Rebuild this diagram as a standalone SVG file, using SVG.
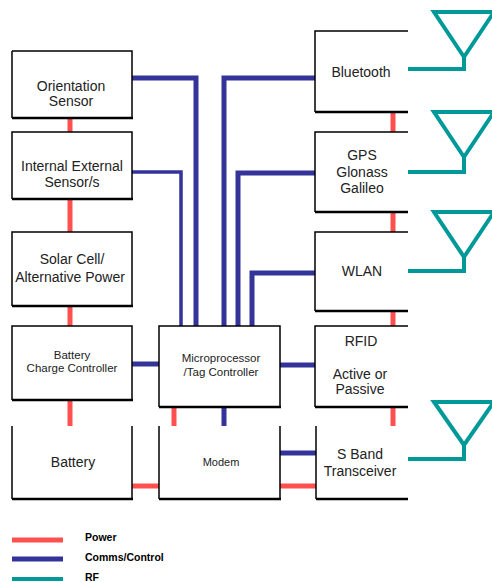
<svg xmlns="http://www.w3.org/2000/svg" width="492" height="582" viewBox="0 0 492 582">
<style>
.box{fill:none;stroke:#000;stroke-width:1.5}
.bot{stroke:#000;stroke-width:2.5}
.t{font-family:"Liberation Sans",Arial,sans-serif;fill:#222;text-anchor:middle;font-size:14px}
.s{font-size:11.5px}
.m{font-size:11px}
.pw{stroke:#FF5050;stroke-width:5;fill:none}
.cc{stroke:#333399;stroke-width:5;fill:none}
.cc3{stroke:#333399;stroke-width:3.5;fill:none}
.rf{stroke:#009999;stroke-width:4;fill:none;stroke-linejoin:miter}
.lg{font-family:"Liberation Sans",Arial,sans-serif;font-weight:bold;font-size:10.5px;fill:#000}
</style>
<rect width="492" height="582" fill="#fff"/>
<g id="connectors">
  <!-- power, left column -->
  <line class="pw" x1="70" y1="118" x2="70" y2="132"/>
  <line class="pw" x1="70" y1="199" x2="70" y2="232"/>
  <line class="pw" x1="70" y1="306" x2="70" y2="326"/>
  <line class="pw" x1="70" y1="400" x2="70" y2="426"/>
  <!-- power, right column -->
  <line class="pw" x1="393" y1="112" x2="393" y2="132"/>
  <line class="pw" x1="393" y1="212" x2="393" y2="232"/>
  <line class="pw" x1="393" y1="311" x2="393" y2="326"/>
  <line class="pw" x1="393" y1="407" x2="393" y2="426"/>
  <!-- power, middle -->
  <line class="pw" x1="174" y1="407" x2="174" y2="426"/>
  <line class="pw" x1="132" y1="486" x2="159" y2="486"/>
  <line class="pw" x1="280" y1="486" x2="316" y2="486"/>
  <!-- comms -->
  <path class="cc" d="M132,78 H196 V326"/>
  <path class="cc3" d="M132,172 H181 V326"/>
  <path class="cc" d="M315,78 H224 V326"/>
  <path class="cc" d="M315,173 H238 V326"/>
  <path class="cc" d="M315,273 H252 V326"/>
  <line class="cc" x1="132" y1="364" x2="159" y2="364"/>
  <line class="cc" x1="280" y1="365" x2="315" y2="365"/>
  <line class="cc" x1="224" y1="407" x2="224" y2="426"/>
  <line class="cc" x1="280" y1="453" x2="316" y2="453"/>
  <!-- RF antennas -->
  <path class="rf" d="M408,69 H464 V57 L434,12 H494 L464,57"/>
  <path class="rf" d="M408,172 H464 V157 L434,112 H494 L464,157"/>
  <path class="rf" d="M408,271 H464 V257 L434,212 H494 L464,257"/>
  <path class="rf" d="M408,459 H464 V445 L434,402 H494 L464,445"/>
</g>
<g id="orientation">
  <path class="box" d="M12,51 H132 V118 M12,118 V51"/>
  <line class="bot" x1="12" y1="118" x2="133" y2="118"/>
  <text class="t" x="71" y="91">Orientation</text>
  <text class="t" x="71" y="106">Sensor</text>
</g>
<g id="internal-external">
  <path class="box" d="M12,199 V132 H132 V199"/>
  <line class="bot" x1="12" y1="199" x2="133" y2="199"/>
  <text class="t" x="72" y="171">Internal External</text>
  <text class="t" x="72" y="187">Sensor/s</text>
</g>
<g id="solar">
  <path class="box" d="M12,306 V232 H132 V306"/>
  <line class="bot" x1="12" y1="306" x2="133" y2="306"/>
  <text class="t" x="72" y="264">Solar Cell/</text>
  <text class="t" x="70" y="282">Alternative Power</text>
</g>
<g id="charge-controller">
  <path class="box" d="M12,400 V326 H132 V400"/>
  <line class="bot" x1="12" y1="400" x2="133" y2="400"/>
  <text class="t s" x="72" y="359">Battery</text>
  <text class="t s" x="72" y="372">Charge Controller</text>
</g>
<g id="battery">
  <path class="box" d="M12,499 V426 M132,426 V499"/>
  <line class="bot" x1="12" y1="499" x2="133" y2="499"/>
  <text class="t" x="73" y="467">Battery</text>
</g>
<g id="microprocessor">
  <path class="box" d="M159,407 V326 H280 V407"/>
  <line class="bot" x1="159" y1="407" x2="281" y2="407"/>
  <text class="t s" x="221" y="362">Microprocessor</text>
  <text class="t s" x="221" y="376">/Tag Controller</text>
</g>
<g id="modem">
  <path class="box" d="M159,499 V426 M280,426 V499"/>
  <line class="bot" x1="159" y1="499" x2="281" y2="499"/>
  <text class="t m" x="221" y="466">Modem</text>
</g>
<g id="bluetooth">
  <path class="box" d="M408,31 H315 V112"/>
  <line class="bot" x1="315" y1="112" x2="408" y2="112"/>
  <text class="t" x="361" y="77">Bluetooth</text>
</g>
<g id="gps">
  <path class="box" d="M408,132 H315 V212"/>
  <line class="bot" x1="315" y1="212" x2="408" y2="212"/>
  <text class="t" x="362" y="160">GPS</text>
  <text class="t" x="362" y="177">Glonass</text>
  <text class="t" x="362" y="193">Galileo</text>
</g>
<g id="wlan">
  <path class="box" d="M408,232 H315 V311"/>
  <line class="bot" x1="315" y1="311" x2="408" y2="311"/>
  <text class="t" x="362" y="276">WLAN</text>
</g>
<g id="rfid">
  <path class="box" d="M408,326 H315 V407"/>
  <line class="bot" x1="315" y1="407" x2="408" y2="407"/>
  <text class="t" x="361" y="346">RFID</text>
  <text class="t" x="360" y="379">Active or</text>
  <text class="t" x="360" y="394">Passive</text>
</g>
<g id="sband">
  <path class="box" d="M316,426 V499"/>
  <line class="bot" x1="316" y1="499" x2="408" y2="499"/>
  <text class="t" x="360" y="459">S Band</text>
  <text class="t" x="360" y="476">Transceiver</text>
</g>
<g id="legend">
  <line class="pw" x1="12" y1="540" x2="63" y2="540" stroke-width="4"/>
  <line class="cc" x1="12" y1="559" x2="63" y2="559" stroke-width="4"/>
  <line class="rf" x1="12" y1="579" x2="63" y2="579"/>
  <text class="lg" x="85" y="541">Power</text>
  <text class="lg" x="85" y="561">Comms/Control</text>
  <text class="lg" x="85" y="581">RF</text>
</g>
</svg>
